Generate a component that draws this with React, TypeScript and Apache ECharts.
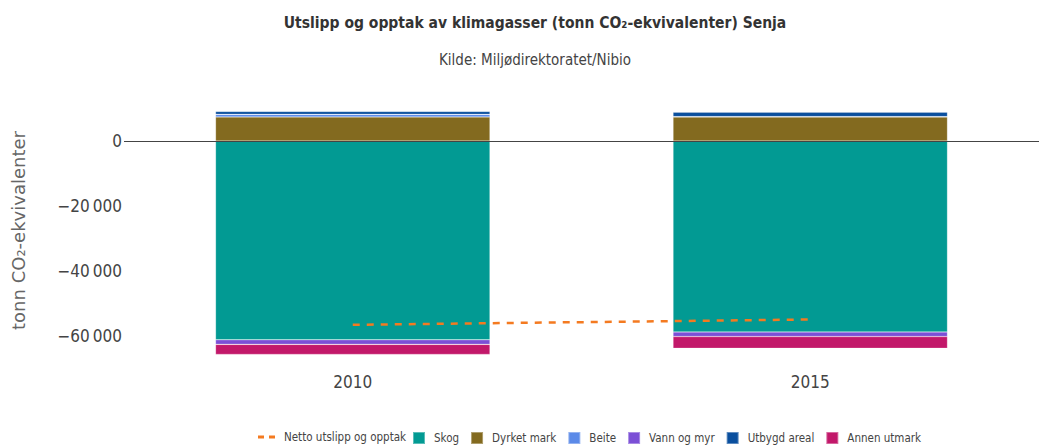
import React, { useEffect, useRef } from "react";
import * as echarts from "echarts";

const categories = ["2010", "2015"];
const skog = [-61100, -58700];
const dyrketMark = [7400, 7400];
const beite = [800, 100];
const vannOgMyr = [-1400, -1400];
const utbygdAreal = [900, 1350];
const annenUtmark = [-3100, -3600];
const netto = [-56500, -54850];
const yTicks = [0, -20000, -40000, -60000];

const NARROW = "'Liberation Sans Narrow', 'DejaVu Sans Condensed', 'Roboto Condensed', sans-serif";

const fmt = (v: number) => {
  const s = Math.abs(v).toString().replace(/\B(?=(\d{3})+(?!\d))/g, "\u2009");
  return (v < 0 ? "\u2212" : "") + s;
};

export default function App() {
  const ref = useRef<HTMLDivElement>(null);
  useEffect(() => {
    document.body.style.margin = "0";
    if (!ref.current) return;
    const chart = echarts.init(ref.current, null, { renderer: "svg" });
    const border = { borderColor: "rgba(255,255,255,0.35)", borderWidth: 0.6 };
    const bar = (name: string, data: number[], color: string, extra: any = {}) => ({
      name,
      type: "bar",
      stack: "total",
      data,
      barCategoryGap: "40%",
      itemStyle: { color, ...border },
      emphasis: { disabled: true },
      ...extra,
    });
    const legendText = { fontFamily: NARROW, fontSize: 11.5, color: "#444", padding: [0, 0, 0, 4] };
    chart.setOption({
      animation: false,
      title: {
        text: "Utslipp og opptak av klimagasser (tonn CO\u2082-ekvivalenter) Senja",
        subtext: "Kilde: Milj\u00f8direktoratet/Nibio",
        left: 530,
        textAlign: "center",
        top: 10,
        itemGap: 21,
        textStyle: { fontFamily: NARROW, fontSize: 15.5, fontWeight: "bold", color: "#333" },
        subtextStyle: { fontFamily: NARROW, fontSize: 15, color: "#444" },
      },
      legend: [
        {
          left: 258,
          top: 431,
          padding: 0,
          itemWidth: 17,
          itemHeight: 3,
          data: [{ name: "Netto utslipp og opptak", icon: "path://M0,0h6v3h-6z M11,0h6v3h-6z" }],
          textStyle: legendText,
        },
        {
          left: 412,
          top: 431,
          padding: 0,
          itemWidth: 12,
          itemHeight: 12,
          itemGap: 11,
          icon: "rect",
          data: ["Skog", "Dyrket mark", "Beite", "Vann og myr", "Utbygd areal", "Annen utmark"],
          textStyle: legendText,
        },
      ],
      grid: { left: 124, width: 918, top: 95.5, height: 270 },
      xAxis: {
        type: "category",
        data: categories,
        axisLine: { show: false },
        axisTick: { show: false },
        axisLabel: { fontFamily: NARROW, fontSize: 17, color: "#444", margin: 8 },
      },
      yAxis: {
        type: "value",
        min: -69000,
        max: 14000,
        name: "tonn CO\u2082-ekvivalenter",
        nameLocation: "middle",
        nameGap: 97,
        nameTextStyle: { fontFamily: "'DejaVu Sans', sans-serif", fontSize: 18, color: "#666" },
        splitLine: { show: false },
        axisLine: { show: false },
        axisTick: { show: false },
        axisLabel: {
          customValues: yTicks,
          formatter: (v: number) => fmt(v),
          fontFamily: NARROW,
          fontSize: 17,
          color: "#444",
          margin: 2,
        },
      },
      series: [
        bar("Skog", skog, "#029a93", {
          markLine: {
            silent: true,
            symbol: "none",
            label: { show: false },
            lineStyle: { color: "#444", width: 1, type: "solid" },
            data: [{ yAxis: 0 }],
          },
        }),
        bar("Dyrket mark", dyrketMark, "#836a1f"),
        bar("Beite", beite, "#5b8ae8"),
        bar("Vann og myr", vannOgMyr, "#7b4fd6"),
        bar("Utbygd areal", utbygdAreal, "#0a4f9e"),
        bar("Annen utmark", annenUtmark, "#c2186a"),
        {
          name: "Netto utslipp og opptak",
          type: "line",
          data: netto,
          symbol: "none",
          z: 10,
          lineStyle: { color: "#f47a20", width: 2.5, type: [7, 7] },
          itemStyle: { color: "#f47a20" },
        },
      ],
    });
    return () => chart.dispose();
  }, []);
  return <div ref={ref} style={{ width: 1039, height: 446 }} />;
}
